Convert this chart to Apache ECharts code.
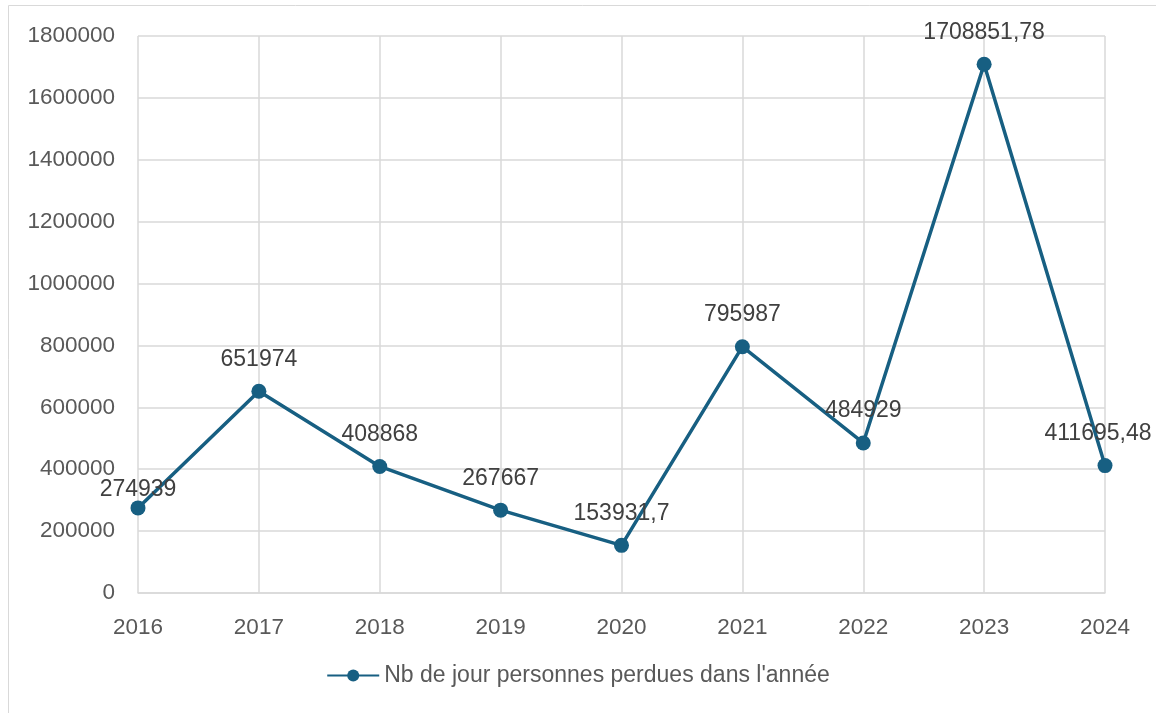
<!DOCTYPE html>
<html>
<head>
<meta charset="utf-8">
<script src="https://cdn.jsdelivr.net/npm/echarts@6/dist/echarts.min.js"></script>
<style>
  html, body { margin: 0; padding: 0; background: #fff; }
  #chart { width: 1156px; height: 713px; }
</style>
</head>
<body>
<div id="chart"></div>
<script>
// années et valeurs
const years = ['2016', '2017', '2018', '2019', '2020', '2021', '2022', '2023', '2024'];
const joursPerdus = [274939, 651974, 408868, 267667, 153931.7, 795987, 484929, 1708851.78, 411695.48];
const seriesName = "Nb de jour personnes perdues dans l'année";

const txt = '#595959';
const grid = '#d9d9d9';
const blue = '#175f82';
const font = 'Liberation Sans';

const chart = echarts.init(document.getElementById('chart'));

// petits décalages d'étiquettes comme dans Excel (premier et dernier point)
function labelFix(i) {
  if (i === 0) return { offset: [0, 14] };
  if (i === joursPerdus.length - 1) return { offset: [-7, 0] };
  return null;
}

chart.setOption({
  animation: false,
  graphic: [{
    type: 'rect',
    shape: { x: 8.5, y: 5.5, width: 1160, height: 720 },
    style: { fill: 'none', stroke: grid, lineWidth: 1 },
    silent: true
  }],
  grid: { left: 138, right: 51, top: 36, bottom: 120 },
  legend: {
    bottom: 21,
    left: 'center',
    itemWidth: 52,
    itemHeight: 15,
    itemGap: 10,
    textStyle: { color: txt, fontSize: 23, fontFamily: font }
  },
  xAxis: {
    type: 'category',
    data: years,
    boundaryGap: false,
    axisTick: { show: false },
    axisLine: { lineStyle: { color: grid, width: 1.5 } },
    splitLine: { show: true, lineStyle: { color: grid, width: 1.5 } },
    axisLabel: { color: txt, fontSize: 22.5, fontFamily: font, margin: 23 }
  },
  yAxis: {
    type: 'value',
    min: 0,
    max: 1800000,
    interval: 200000,
    axisLine: { show: false },
    axisTick: { show: false },
    splitLine: { lineStyle: { color: grid, width: 1.5 } },
    axisLabel: { color: txt, fontSize: 22.5, fontFamily: font, margin: 23, formatter: v => String(v) }
  },
  series: [{
    name: seriesName,
    type: 'line',
    data: joursPerdus.map((v, i) => labelFix(i) ? { value: v, label: labelFix(i) } : v),
    symbol: 'circle',
    symbolSize: 15,
    lineStyle: { color: blue, width: 3.5 },
    itemStyle: { color: blue },
    label: {
      show: true,
      position: 'top',
      distance: 13,
      color: '#404040',
      fontSize: 23,
      fontFamily: font,
      formatter: p => String(p.value).replace('.', ',')
    }
  }]
});
</script>
</body>
</html>
